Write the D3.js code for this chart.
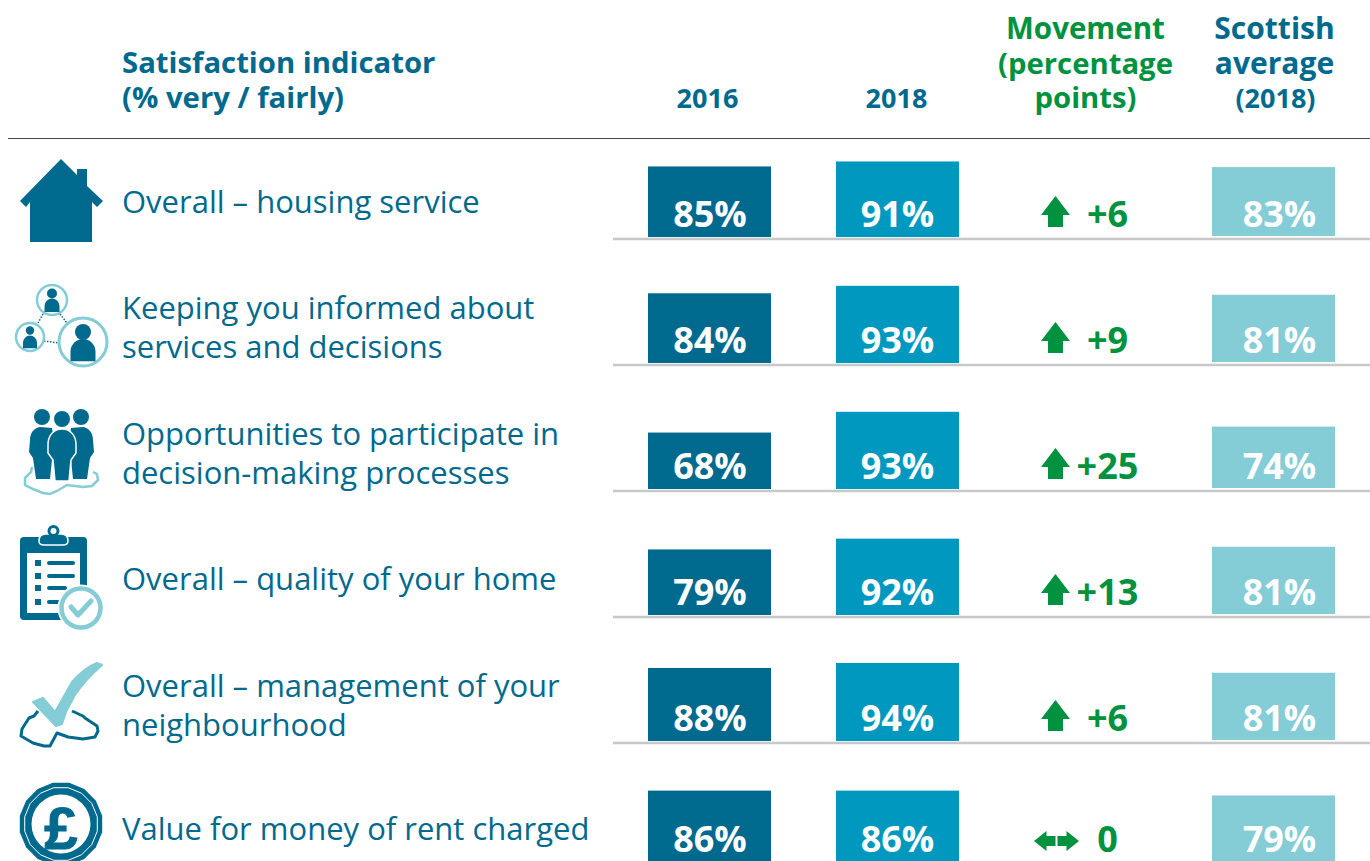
<!DOCTYPE html>
<html>
<head>
<meta charset="utf-8">
<script src="https://cdn.jsdelivr.net/npm/d3@7"></script>
<style>
  html, body { margin: 0; padding: 0; background: #fff; overflow: hidden; }
  text { font-family: "Open Sans", sans-serif; }
</style>
</head>
<body>
<div id="chart"></div>
<script>
// values
var indicators = [
  ["Overall \u2013 housing service"],
  ["Keeping you informed about", "services and decisions"],
  ["Opportunities to participate in", "decision-making processes"],
  ["Overall \u2013 quality of your home"],
  ["Overall \u2013 management of your", "neighbourhood"],
  ["Value for money of rent charged"]
];
var values2016 = [85, 84, 68, 79, 88, 86];
var values2018 = [91, 93, 93, 92, 94, 86];
var movement = [6, 9, 25, 13, 6, 0];
var scottish = [83, 81, 74, 81, 81, 79];
var columns = ["2016", "2018", "movement", "scottish"];

// layout
var width = 1370, height = 861;
var rowBase = [237, 363, 489, 615, 741, 862];
var labelBase = [213, 319, 445, 590, 697, 840];
var dark = "#006a8e", mid = "#0098bf", light = "#84ccd6", green = "#00923f";

var svg = d3.select("#chart").append("svg")
  .attr("width", width)
  .attr("height", height)
  .style("display", "block");

var colX = d3.scalePoint().domain(columns).range([709.5, 1273.5]);
var barH = d3.scaleLinear().domain([0, 100]).range([0, 83]);
var barW = 123;

// header
function head(x, y, str, color, size, anchor) {
  svg.append("text")
    .attr("x", x).attr("y", y)
    .attr("fill", color)
    .attr("font-size", size)
    .attr("font-weight", 700)
    .attr("text-anchor", anchor || "middle")
    .text(str);
}
head(122, 73, "Satisfaction indicator", dark, 29.3, "start");
head(122, 108, "(% very / fairly)", dark, 29.3, "start");
head(colX("2016") - 2, 108, "2016", dark, 27);
head(colX("2018") - 1, 108, "2018", dark, 27);
head(colX("movement"), 39, "Movement", green, 29.5);
head(colX("movement"), 74, "(percentage", green, 29.3);
head(colX("movement"), 108, "points)", green, 29.3);
head(colX("scottish") + 1, 39, "Scottish", dark, 30);
head(colX("scottish") + 1, 74, "average", dark, 30);
head(colX("scottish") + 2, 108, "(2018)", dark, 27);

svg.append("line")
  .attr("x1", 8).attr("x2", width)
  .attr("y1", 138.5).attr("y2", 138.5)
  .attr("stroke", "#444").attr("stroke-width", 1);

// row labels
var labels = svg.append("g").attr("fill", dark).attr("font-size", 31);
indicators.forEach(function (lines, i) {
  lines.forEach(function (l, j) {
    labels.append("text")
      .attr("x", 122)
      .attr("y", labelBase[i] + j * 38.5)
      .text(l);
  });
});

// rules under each row
svg.selectAll("line.rule")
  .data(rowBase.slice(0, 5))
  .enter()
  .append("line")
  .attr("class", "rule")
  .attr("x1", 613).attr("x2", width)
  .attr("y1", function (d) { return d + 2; })
  .attr("y2", function (d) { return d + 2; })
  .attr("stroke", "#c8c8c8")
  .attr("stroke-width", 2.5);

// bars
function bars(key, vals, color, nudge, textNudge) {
  var g = svg.append("g");
  g.selectAll("rect")
    .data(vals)
    .enter()
    .append("rect")
    .attr("x", colX(key) - barW / 2)
    .attr("y", function (d, i) { return rowBase[i] - nudge - barH(d); })
    .attr("width", barW)
    .attr("height", function (d) { return barH(d); })
    .attr("fill", color);
  g.selectAll("text")
    .data(vals)
    .enter()
    .append("text")
    .attr("x", colX(key) + textNudge)
    .attr("y", function (d, i) { return rowBase[i] - 10; })
    .attr("text-anchor", "middle")
    .attr("fill", "#fff")
    .attr("font-size", 36)
    .attr("font-weight", 700)
    .text(function (d) { return d + "%"; });
}
bars("2016", values2016, dark, 0, 0.5);
bars("2018", values2018, mid, 0, 0);
bars("scottish", scottish, light, 1, 6);

// movement arrows and figures
var upArrow = "M0,-15.5 L14.5,3.5 L7.5,3.5 L7.5,15.5 L-7.5,15.5 L-7.5,3.5 L-14.5,3.5 Z";
var sideArrows = "M-22.5,0 L-10,-10 L-10,-5 L-1,-5 L-1,5 L-10,5 L-10,10 Z M22.5,0 L10,-10 L10,-5 L1,-5 L1,5 L10,5 L10,10 Z";
var mg = svg.append("g").attr("fill", green);
movement.forEach(function (m, i) {
  mg.append("path")
    .attr("d", m === 0 ? sideArrows : upArrow)
    .attr("transform", m === 0
      ? "translate(1056.5," + (rowBase[i] - 21) + ")"
      : "translate(1055.5," + (rowBase[i] - 25.6) + ")");
  mg.append("text")
    .attr("x", colX("movement") + 22)
    .attr("y", rowBase[i] - 10)
    .attr("text-anchor", "middle")
    .attr("font-size", 36)
    .attr("font-weight", 700)
    .text(m > 0 ? "+" + m : m);
});

// icons
var ic = svg.append("g");
// house
ic.append("path").attr("fill", dark)
  .attr("d", "M61,159 L77,175 L77,169 L87,169 L87,186 L103,201 L97,207 L92,202 L92,242 L30,242 L30,202 L26,207 L20,201 Z");

// people network
ic.append("path")
  .attr("d", "M43,314 L38,323 M60,314 L67,323 M44,341 L59,343")
  .attr("stroke", dark).attr("stroke-width", 1.5).attr("stroke-dasharray", "1.5 1.5").attr("fill", "none");
function person(cx, cy, r, hr, hy, bw) {
  ic.append("circle").attr("cx", cx).attr("cy", cy).attr("r", r)
    .attr("fill", "#fff").attr("stroke", light).attr("stroke-width", r > 20 ? 3 : 2.5);
  ic.append("circle").attr("cx", cx).attr("cy", cy + hy).attr("r", hr).attr("fill", dark);
  ic.append("path").attr("fill", dark)
    .attr("d", "M" + (cx - bw) + "," + (cy + r * 0.8) + " L" + (cx - bw) + "," + (cy + r * 0.4)
      + " A" + bw + "," + bw + " 0 0 1 " + (cx + bw) + "," + (cy + r * 0.4)
      + " L" + (cx + bw) + "," + (cy + r * 0.8) + " Z");
}
person(52, 300, 15, 5, -6.5, 7.5);
person(30, 337, 14, 4.2, -6.5, 7);
person(83, 342, 24, 8, -10, 12.5);

// group on ground
ic.append("path").attr("fill", "none").attr("stroke", light).attr("stroke-width", 2.5)
  .attr("d", "M32,467 L31,472 L25,478 L25,485 L33,489 L43,493 L50,494 L57,491 L67,485 L75,486 L83,487 L92,486 L98,480 L97,474 L93,472");
[[42, 417], [81, 417]].forEach(function (p) {
  ic.append("circle").attr("cx", p[0]).attr("cy", p[1]).attr("r", 8).attr("fill", dark);
});
ic.append("path").attr("fill", dark)
  .attr("d", "M40,427 C34,428 30,433 30,440 L29,452 L33,458 L36,479 L50,479 L54,440 L52,428 Z");
ic.append("path").attr("fill", dark)
  .attr("d", "M83,427 C89,428 93,433 93,440 L94,452 L90,458 L87,479 L73,479 L69,440 L71,428 Z");
ic.append("circle").attr("cx", 62).attr("cy", 419).attr("r", 8).attr("fill", dark);
ic.append("path").attr("fill", dark).attr("stroke", "#fff").attr("stroke-width", 1.5)
  .attr("d", "M62,429 C53,429 48,436 48,445 L48,453 L53,460 L55,481 L69,481 L71,460 L76,453 L76,445 C76,436 71,429 62,429 Z");

// clipboard
ic.append("rect").attr("x", 20).attr("y", 537).attr("width", 67).attr("height", 83).attr("rx", 4).attr("fill", dark);
ic.append("rect").attr("x", 27).attr("y", 553).attr("width", 53).attr("height", 60).attr("fill", "#fff");
ic.append("path").attr("fill", dark).attr("stroke", "#fff").attr("stroke-width", 1.5)
  .attr("d", "M39,541 Q39,534 46,534 L61,534 Q68,534 68,541 Q68,545 63,545 L44,545 Q39,545 39,541 Z");
ic.append("circle").attr("cx", 53.5).attr("cy", 531).attr("r", 4.5).attr("fill", "#fff").attr("stroke", dark).attr("stroke-width", 3);
[[560, 74], [573, 74], [585, 66], [599, 60]].forEach(function (b) {
  ic.append("rect").attr("x", 35).attr("y", b[0]).attr("width", 6).attr("height", 6).attr("fill", dark);
  ic.append("line").attr("x1", 49).attr("x2", b[1] - 1).attr("y1", b[0] + 3).attr("y2", b[0] + 3)
    .attr("stroke", dark).attr("stroke-width", 4).attr("stroke-linecap", "round");
});
ic.append("circle").attr("cx", 81).attr("cy", 608).attr("r", 23.5).attr("fill", "#fff");
ic.append("circle").attr("cx", 81).attr("cy", 608).attr("r", 19.5).attr("fill", "#fff").attr("stroke", light).attr("stroke-width", 4.5);
ic.append("path").attr("fill", "none").attr("stroke", light).attr("stroke-width", 5)
  .attr("stroke-linecap", "round").attr("stroke-linejoin", "round")
  .attr("d", "M71,607 L78,615 L91,601");

// tick over neighbourhood
ic.append("path").attr("fill", "none").attr("stroke", dark).attr("stroke-width", 3).attr("stroke-linejoin", "round")
  .attr("d", "M38,711 L34,716 L29,718 L22,729 L21,736 L33,743 L44,746 L50,746 L57,733 L68,737 L83,739 L95,737 L98,731 L97,726 L85,718 L83,716 L72,711");
ic.append("path").attr("fill", light).attr("stroke", light).attr("stroke-width", 2).attr("stroke-linejoin", "round")
  .attr("d", "M33,702 L43,698 L55,712 L72,682 Q84,668 97,663 L102,665 Q85,680 75,695 Q68,708 66,712 L62,724 L56,726 Z");

// pound coin
var coin = d3.range(16).map(function (k) { return k * Math.PI / 8 + Math.PI / 16; });
function poly(r) {
  return "M" + coin.map(function (a) { return (61 + r * Math.cos(a)) + "," + (824 + r * Math.sin(a)); }).join("L") + "Z";
}
ic.append("path").attr("d", poly(42)).attr("fill", dark);
ic.append("path").attr("d", poly(37)).attr("fill", "none").attr("stroke", "#fff").attr("stroke-width", 1);
ic.append("circle").attr("cx", 61).attr("cy", 824).attr("r", 29.5).attr("fill", "#fff");
ic.append("text").attr("x", 61).attr("y", 849).attr("text-anchor", "middle")
  .attr("font-size", 60).attr("font-weight", 700).attr("fill", dark)
  .attr("stroke", dark).attr("stroke-width", 1)
  .style("font-family", "'Liberation Sans'").text("\u00a3");
</script>
</body>
</html>
